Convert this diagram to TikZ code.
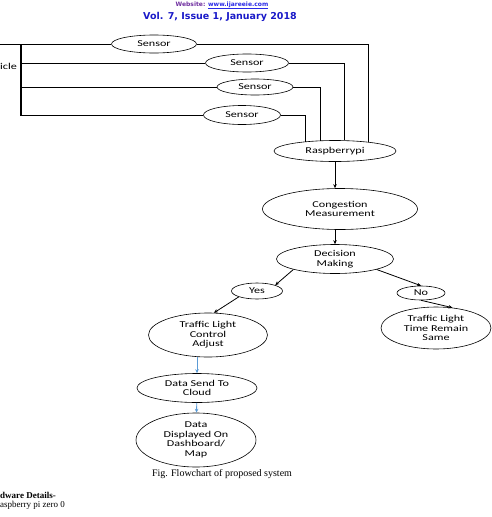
\documentclass[tikz,border=0pt]{standalone}
\usepackage{fontspec}
\setmainfont{Liberation Serif}
\newfontfamily\bubblefont[FakeStretch=1.35]{Carlito}
\newfontfamily\headfont{DejaVu Sans}
\usetikzlibrary{shapes.geometric,arrows.meta}
\definecolor{headblue}{RGB}{25,25,200}
\definecolor{webpurple}{RGB}{112,48,160}
\definecolor{linkblue}{RGB}{40,40,230}
\definecolor{flowblue}{RGB}{91,155,213}
\tikzset{
  bubble/.style={ellipse, draw, line width=0.6pt, inner sep=0pt, align=center,
    font=\bubblefont\fontsize{9}{9.5}\selectfont},
  wire/.style={line width=0.8pt},
  flow/.style={->, line width=0.8pt},
  bluflow/.style={->, line width=0.8pt, draw=flowblue},
}

\begin{document}
\begin{tikzpicture}[x=1pt, y=-1pt, >={Stealth[length=4pt,width=3.5pt]}]
        \useasboundingbox (0,0) rectangle (491,517);
        % Journal header
        \node[font=\headfont\bfseries\fontsize{6}{7}\selectfont, anchor=base] (web) at (222,6)
            {\textcolor{webpurple}{Website:} \textcolor{linkblue}{\underline{www.ijareeie.com}}};
        \node[font=\headfont\bfseries\fontsize{9.5}{11}\selectfont, text=headblue] (vol) at (220,17)
            {Vol. 7, Issue 1, January 2018};
        % Vehicle and sensors
        \node[font=\bubblefont\fontsize{9}{9.5}\selectfont, anchor=base west, inner sep=0pt] (veh) at (0,69) {icle};
        \node[bubble, minimum width=85pt, minimum height=18pt] (s1) at (154,44) {Sensor};
        \node[bubble, minimum width=83pt, minimum height=18pt] (s2) at (247,63) {Sensor};
        \node[bubble, minimum width=76pt, minimum height=16pt] (s3) at (255,87) {Sensor};
        \node[bubble, minimum width=77pt, minimum height=19pt] (s4) at (242,115) {Sensor};
        \coordinate (vin) at (0,44);
        \coordinate (bustop) at (21,44);
        \coordinate (busbot) at (21,116);
        \draw[wire] (vin) -- (s1);
        \draw[line width=1.3pt] (bustop) -- (busbot);
        \draw[wire] (s2.west -| bustop) -- (s2);
        \draw[wire] (s3.west -| bustop) -- (s3);
        \draw[wire] (s4.west -| bustop) -- (s4);
        % Processing chain
        \node[bubble, minimum width=122pt, minimum height=21pt] (rpi) at (335,151) {Raspberrypi};
        \node[bubble, minimum width=155pt, minimum height=41pt] (cong) at (340,209) {Congestion\\Measurement};
        \node[bubble, minimum width=117pt, minimum height=29pt] (dec) at (335,259) {Decision\\Making};
        \draw[wire] (s1.east) -| (rpi.15);
        \draw[wire] (s2.east) -| (rpi.49);
        \draw[wire] (s3.east) -| (rpi.144);
        \draw[wire] (s4.east) -| (rpi.162);
        \draw[flow] (rpi.south) -- (rpi.south |- cong.north);
        \draw[flow] (dec |- cong.south) -- (dec);
        % Decision branches
        \node[bubble, minimum width=51pt, minimum height=16pt] (yes) at (257,291) {Yes};
        \node[bubble, minimum width=48pt, minimum height=14pt] (no) at (421,293) {No};
        \node[bubble, minimum width=119pt, minimum height=44pt] (tlca) at (208,335) {Traffic Light\\Control\\Adjust};
        \node[bubble, minimum width=110pt, minimum height=42pt] (tltrs) at (436,328) {Traffic Light\\Time Remain\\Same};
        \draw[flow] (dec.south west) -- (yes.north east);
        \draw[flow] (dec.south east) -- (no.north);
        \draw[flow] (yes.south west) -- (tlca.75);
        \draw[flow] (no.south) -- (tltrs.51);
        % Cloud and dashboard
        \node[bubble, minimum width=120pt, minimum height=29pt] (dsend) at (197,388) {Data Send To\\Cloud};
        \node[bubble, minimum width=120pt, minimum height=54pt] (ddisp) at (196,440) {Data\\Displayed On\\Dashboard/\\Map};
        \draw[bluflow] (tlca.south -| dsend) -- (dsend);
        \draw[bluflow] (dsend) -- (ddisp);
        % Caption and text below
        \node[font=\fontsize{10}{12}\selectfont] (cap) at (222,474) {Fig. Flowchart of proposed system};
        \node[font=\bfseries\fontsize{9}{10}\selectfont, anchor=base west, inner sep=0pt] (hw) at (0,498) {dware Details-};
        \node[font=\fontsize{9}{10}\selectfont, anchor=base west, inner sep=0pt] (rp0) at (0,507) {aspberry pi zero 0};
    \end{tikzpicture}
\end{document}
